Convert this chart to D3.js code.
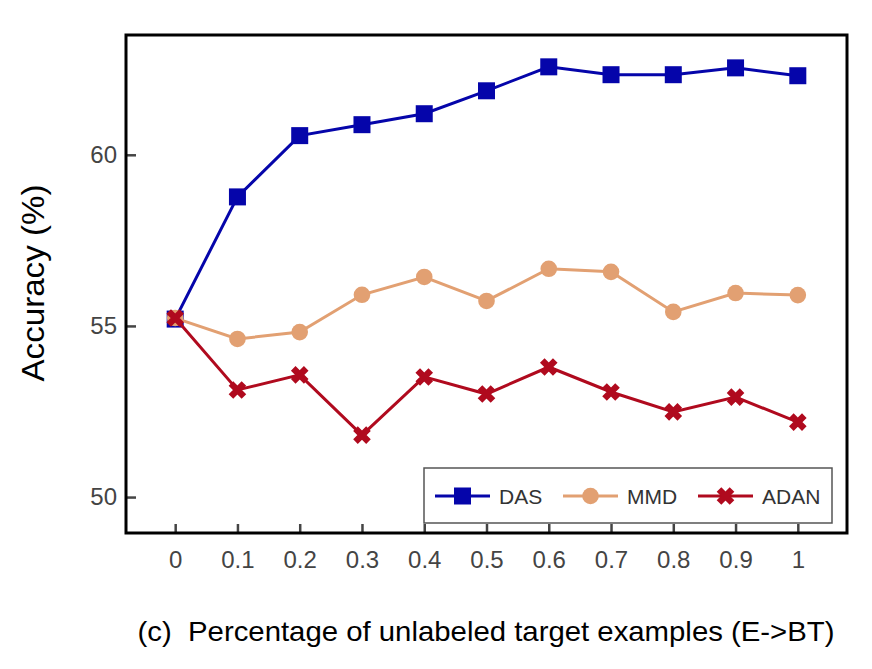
<!DOCTYPE html>
<html>
<head>
<meta charset="utf-8">
<script src="https://cdn.jsdelivr.net/npm/d3@7"></script>
<style>
  body { margin: 0; background: #fff; }
  text { font-family: "Liberation Sans", Arial, sans-serif; }
</style>
</head>
<body>
<svg id="chart" width="872" height="669"></svg>
<script>
var ratios = [0, 0.1, 0.2, 0.3, 0.4, 0.5, 0.6, 0.7, 0.8, 0.9, 1];
var tickLabels = ["0", "0.1", "0.2", "0.3", "0.4", "0.5", "0.6", "0.7", "0.8", "0.9", "1"];
var yTicks = [50, 55, 60];
var das  = [55.2, 58.77, 60.56, 60.88, 61.2, 61.87, 62.57, 62.34, 62.34, 62.54, 62.31];
var mmd  = [55.23, 54.62, 54.82, 55.91, 56.43, 55.73, 56.67, 56.58, 55.41, 55.96, 55.9];
var adan = [55.23, 53.13, 53.57, 51.81, 53.51, 53.01, 53.8, 53.07, 52.49, 52.92, 52.19];

var series = [
    { name: "DAS",  values: das,  color: "#0505aa", marker: "square" },
    { name: "MMD",  values: mmd,  color: "#e2a072", marker: "circle" },
    { name: "ADAN", values: adan, color: "#b00a1e", marker: "cross" }
];

var svg = d3.select("#chart"),
    plotL = 126, plotR = 847, plotT = 35, plotB = 533;

var x = d3.scaleLinear().domain([-0.079, 1.079]).range([plotL, plotR]);
var y = d3.scaleLinear().domain([48.95, 63.5]).range([plotB, plotT]);

// ticks (inward)
svg.append("g")
    .attr("transform", "translate(0," + plotB + ")")
    .call(d3.axisBottom(x).tickValues(ratios).tickSize(-9).tickFormat(function (d, i) { return tickLabels[i]; }))
    .call(function (g) {
        g.select(".domain").remove();
        g.selectAll(".tick line").attr("stroke", "#444").attr("stroke-width", 2.5);
        g.selectAll(".tick text").attr("fill", "#444").attr("font-size", 24).attr("y", 18).attr("dy", "0.71em")
            .attr("font-family", "Liberation Sans, Arial, sans-serif");
    });

svg.append("g")
    .attr("transform", "translate(" + plotL + ",0)")
    .call(d3.axisLeft(y).tickValues(yTicks).tickSize(-10))
    .call(function (g) {
        g.select(".domain").remove();
        g.selectAll(".tick line").attr("stroke", "#444").attr("stroke-width", 2.5);
        g.selectAll(".tick text").attr("fill", "#444").attr("font-size", 24).attr("x", -9)
            .attr("font-family", "Liberation Sans, Arial, sans-serif");
    });

// frame
svg.append("rect")
    .attr("x", plotL).attr("y", plotT)
    .attr("width", plotR - plotL).attr("height", plotB - plotT)
    .attr("fill", "none").attr("stroke", "#000").attr("stroke-width", 3);

function drawMarker(g, type, color) {
    if (type === "square") {
        g.append("rect").attr("x", -8.5).attr("y", -8.5).attr("width", 17).attr("height", 17).attr("fill", color);
    } else if (type === "circle") {
        g.append("circle").attr("r", 8.3).attr("fill", color);
    } else {
        g.append("path").attr("d", "M-6.5,-6.5L6.5,6.5M-6.5,6.5L6.5,-6.5")
            .attr("stroke", color).attr("stroke-width", 6.5).attr("fill", "none");
    }
}

var line = d3.line()
    .x(function (d, i) { return x(ratios[i]); })
    .y(function (d) { return y(d); });

series.forEach(function (s) {
    svg.append("path")
        .datum(s.values)
        .attr("d", line)
        .attr("fill", "none")
        .attr("stroke", s.color)
        .attr("stroke-width", 3);
    s.values.forEach(function (v, i) {
        var g = svg.append("g").attr("transform", "translate(" + x(ratios[i]) + "," + y(v) + ")");
        drawMarker(g, s.marker, s.color);
    });
});

// legend
var lg = svg.append("g");
lg.append("rect")
    .attr("x", 424).attr("y", 468).attr("width", 408).attr("height", 55)
    .attr("fill", "#fff").attr("stroke", "#555").attr("stroke-width", 1.5);
var legendX = [435, 563, 698];
series.forEach(function (s, i) {
    var lx = legendX[i], ly = 496;
    lg.append("line").attr("x1", lx).attr("x2", lx + 55).attr("y1", ly).attr("y2", ly)
        .attr("stroke", s.color).attr("stroke-width", 3);
    var m = lg.append("g").attr("transform", "translate(" + (lx + 27.5) + "," + ly + ")");
    drawMarker(m, s.marker, s.color);
    lg.append("text").attr("x", lx + 64).attr("y", ly + 8)
        .attr("font-size", 21).attr("fill", "#333").text(s.name);
});

// axis titles
svg.append("text")
    .attr("transform", "translate(44,283) rotate(-90)")
    .attr("text-anchor", "middle")
    .attr("font-size", 31).attr("fill", "#000")
    .attr("textLength", 197).attr("lengthAdjust", "spacingAndGlyphs")
    .text("Accuracy (%)");

svg.append("text")
    .attr("x", 486).attr("y", 641)
    .attr("text-anchor", "middle")
    .attr("font-size", 28).attr("fill", "#000")
    .attr("textLength", 697).attr("lengthAdjust", "spacingAndGlyphs")
    .style("white-space", "pre")
    .text("(c)  Percentage of unlabeled target examples (E->BT)");
</script>
</body>
</html>
